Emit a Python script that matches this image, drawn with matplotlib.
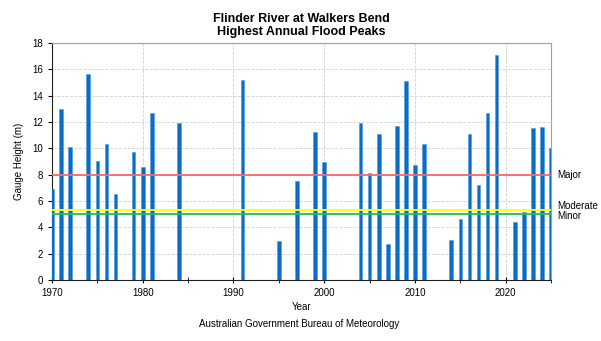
import matplotlib.pyplot as plt
from matplotlib.ticker import MultipleLocator
import matplotlib.transforms as mtransforms

plt.rcParams['font.family'] = ['Liberation Sans', 'DejaVu Sans']

years = [1970, 1971, 1972, 1974, 1975, 1976, 1977, 1979, 1980, 1981, 1984,
         1991, 1995, 1997, 1999, 2000,
         2004, 2005, 2006, 2007, 2008, 2009, 2010, 2011,
         2014, 2015, 2016, 2017, 2018, 2019, 2021, 2022, 2023, 2024, 2025]
peaks = [6.9, 13.0, 10.1, 15.65, 9.0, 10.3, 6.5, 9.75, 8.55, 12.7, 11.9,
         15.2, 2.95, 7.5, 11.25, 8.95,
         11.9, 8.1, 11.1, 2.7, 11.7, 15.1, 8.7, 10.35,
         3.0, 4.6, 11.1, 7.25, 12.7, 17.1, 4.4, 5.15, 11.55, 11.6, 10.05]

levels = ['Major', 'Moderate', 'Minor']
level_values = [8.0, 5.3, 5.0]
level_colors = ['#f26b6b', '#ffff00', '#22c04a']

fig = plt.figure(figsize=(6.01, 3.41), dpi=100)
ax = fig.add_axes([0.0865, 0.179, 0.8305, 0.695])

ax.bar(years, peaks, width=0.4, color='#0b6cc4', edgecolor='#4a9ae0',
       linewidth=0.4, zorder=3)

for v, c in zip(level_values, level_colors):
    ax.axhline(v, color=c, linewidth=1.3, zorder=4)

trans = mtransforms.blended_transform_factory(ax.transAxes, ax.transData)
ax.text(1.012, 8.0, 'Major', transform=trans, fontsize=7, va='center')
ax.text(1.012, 5.65, 'Moderate', transform=trans, fontsize=7, va='center')
ax.text(1.012, 4.85, 'Minor', transform=trans, fontsize=7, va='center')

ax.set_xlim(1970, 2025)
ax.set_ylim(0, 18)
ax.xaxis.set_major_locator(MultipleLocator(10))
ax.xaxis.set_minor_locator(MultipleLocator(5))
ax.yaxis.set_major_locator(MultipleLocator(2))
ax.tick_params(axis='both', labelsize=7, length=3, width=0.8)
ax.tick_params(axis='x', which='both', direction='inout', length=5)
ax.tick_params(axis='y', direction='out')

ax.grid(True, which='major', linestyle='--', color='#d0d0d0', linewidth=0.6, zorder=0)
ax.set_axisbelow(True)
for s in ['top', 'right']:
    ax.spines[s].set_color('#a0a0a0')
for s in ['left', 'bottom']:
    ax.spines[s].set_color('#202020')

ax.set_xlabel('Year', fontsize=7, labelpad=3)
ax.set_ylabel('Gauge Height (m)', fontsize=7, labelpad=6)
ax.set_title('Flinder River at Walkers Bend\nHighest Annual Flood Peaks',
             fontsize=9, fontweight='bold', linespacing=1.1, pad=6)

fig.text(0.4975, 0.04, 'Australian Government Bureau of Meteorology',
         ha='center', fontsize=7)

fig.savefig('out.png', dpi=100)
